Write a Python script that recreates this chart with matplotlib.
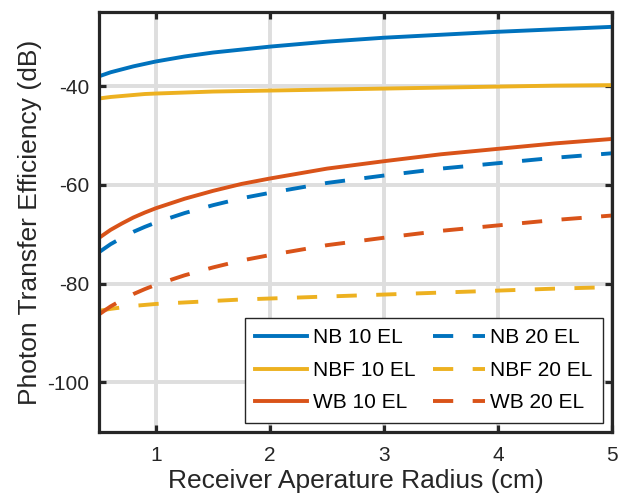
import matplotlib
matplotlib.use("Agg")
import matplotlib.pyplot as plt

plt.rcParams['font.family'] = ['Liberation Sans', 'DejaVu Sans']
plt.rcParams['axes.unicode_minus'] = False

# receiver aperture radius (cm)
radius = [0.5, 0.6, 0.7, 0.8, 0.9, 1.0, 1.25, 1.5, 1.75, 2.0, 2.5, 3.0, 3.5, 4.0, 4.5, 5.0]

# photon transfer efficiency (dB)
nb_10 = [-38.0, -37.2, -36.6, -36.0, -35.5, -35.0, -34.0, -33.2, -32.6, -32.0, -31.0, -30.2, -29.6, -29.0, -28.5, -28.0]
nbf_10 = [-42.5, -42.2, -42.0, -41.8, -41.6, -41.5, -41.3, -41.1, -41.0, -40.9, -40.7, -40.5, -40.3, -40.1, -39.9, -39.8]
wb_10 = [-70.7, -69.1, -67.8, -66.6, -65.6, -64.7, -62.8, -61.2, -59.8, -58.7, -56.7, -55.2, -53.8, -52.7, -51.6, -50.7]
nb_20 = [-73.6, -72.0, -70.7, -69.5, -68.5, -67.6, -65.7, -64.1, -62.7, -61.6, -59.6, -58.1, -56.7, -55.6, -54.5, -53.6]
nbf_20 = [-85.5, -85.1, -84.8, -84.5, -84.3, -84.1, -83.8, -83.5, -83.2, -83.0, -82.6, -82.2, -81.8, -81.4, -81.0, -80.7]
wb_20 = [-86.2, -84.6, -83.3, -82.1, -81.1, -80.2, -78.3, -76.7, -75.3, -74.2, -72.2, -70.7, -69.3, -68.2, -67.1, -66.2]

xticks = [1, 2, 3, 4, 5]
yticks = [-100, -80, -60, -40]

blue, yellow, orange = '#0072BD', '#EDB120', '#D95319'
dash = (0, (5.2, 5.0))
ink = '#262626'

fig = plt.figure(figsize=(6.2, 5.01), dpi=100)
ax = fig.add_axes([0.160, 0.138, 0.827, 0.838])

lw = 2.8
ax.plot(radius, nb_10, color=blue, lw=lw, label='NB 10 EL')
ax.plot(radius, nbf_10, color=yellow, lw=lw, label='NBF 10 EL')
ax.plot(radius, wb_10, color=orange, lw=lw, label='WB 10 EL')
ax.plot(radius, nb_20, color=blue, lw=lw, ls=dash, label='NB 20 EL')
ax.plot(radius, nbf_20, color=yellow, lw=lw, ls=dash, label='NBF 20 EL')
ax.plot(radius, wb_20, color=orange, lw=lw, ls=dash, label='WB 20 EL')

ax.set_xlim(0.5, 5)
ax.set_ylim(-110, -25)
ax.set_xticks(xticks)
ax.set_yticks(yticks)
ax.grid(True, color='#dedede', lw=2.8)
ax.set_axisbelow(True)
for s in ax.spines.values():
    s.set_linewidth(2.3)
    s.set_color(ink)
ax.tick_params(direction='in', length=5, width=2.3, top=True, right=True,
               labelsize=15, colors=ink)
ax.tick_params(axis='x', pad=10)
ax.tick_params(axis='y', pad=7)

ax.set_xlabel('Receiver Aperature Radius (cm)', fontsize=19, color=ink, labelpad=3)
ax.set_ylabel('Photon Transfer Efficiency (dB)', fontsize=19, color=ink, labelpad=4)

leg = ax.legend(ncol=2, loc='lower right', fontsize=15, handlelength=2.5,
                handletextpad=0.25, columnspacing=0.85, labelspacing=0.65,
                borderaxespad=0.43, fancybox=False, framealpha=1,
                edgecolor=ink, borderpad=0.5)
leg.get_frame().set_linewidth(1.0)

fig.savefig('out.png', dpi=100)
